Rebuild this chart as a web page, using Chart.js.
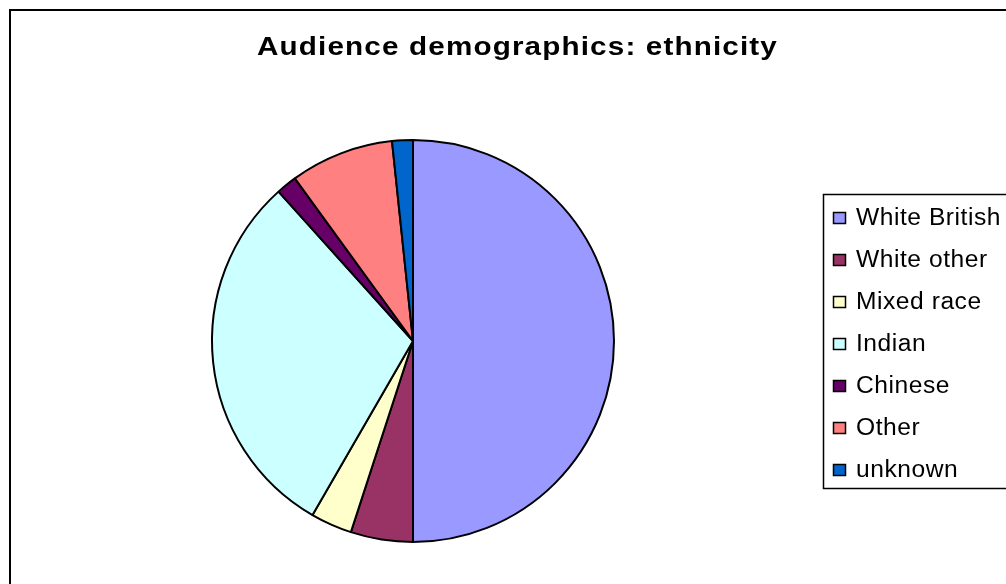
<!DOCTYPE html>
<html>
<head>
<meta charset="utf-8">
<title>Audience demographics: ethnicity</title>
<script src="https://cdn.jsdelivr.net/npm/chart.js@4/dist/chart.umd.min.js"></script>
<style>
  html, body { margin: 0; padding: 0; background: #fff; overflow: hidden; }
  #wrap { position: relative; width: 1006px; height: 584px; }
</style>
</head>
<body>
<div id="wrap"><canvas id="pieChart" width="1006" height="584"></canvas></div>
<script>
const chartTitle = 'Audience demographics: ethnicity';
const ethnicLabels = ['White British', 'White other', 'Mixed race', 'Indian', 'Chinese', 'Other', 'unknown'];
const audienceCounts = [30, 3, 2, 18, 1, 5, 1];
const sliceColors = ['#9999FF', '#993366', '#FFFFCC', '#CCFFFF', '#660066', '#FF8080', '#0066CC'];

const FONT = '"Liberation Sans", Arial, sans-serif';

// excel draws its text wider than the font does, so stretch it a bit
function wideText(ctx, text, x, y, sx, spacing) {
    ctx.save();
    ctx.letterSpacing = spacing + 'px';
    ctx.translate(x, y);
    ctx.scale(sx, 1);
    ctx.fillText(text, 0, 0);
    ctx.restore();
}

function fitScale(ctx, text, targetWidth, spacing) {
    ctx.letterSpacing = spacing + 'px';
    const w = ctx.measureText(text).width;
    ctx.letterSpacing = '0px';
    return targetWidth / w;
}

const framePlugin = {
    id: 'frame',
    beforeDraw(chart) {
        const ctx = chart.ctx;
        ctx.save();
        ctx.fillStyle = '#fff';
        ctx.fillRect(0, 0, chart.width, chart.height);
        // chart border, runs off the right and bottom edge
        ctx.strokeStyle = '#000';
        ctx.lineWidth = 2;
        ctx.strokeRect(10, 10, 1100, 700);
        ctx.restore();
    },
    afterDraw(chart) {
        const ctx = chart.ctx;
        ctx.save();
        ctx.fillStyle = '#000';
        ctx.textBaseline = 'alphabetic';
        ctx.textAlign = 'left';

        // title
        ctx.font = 'bold 26px ' + FONT;
        const tScale = fitScale(ctx, chartTitle, 521, 1);
        wideText(ctx, chartTitle, 257, 55, tScale, 1);

        // legend box
        ctx.strokeStyle = '#000';
        ctx.lineWidth = 1.5;
        ctx.fillStyle = '#fff';
        ctx.fillRect(823.5, 194.5, 300, 294);
        ctx.strokeRect(823.5, 194.5, 300, 294);

        const ds = chart.data.datasets[0];
        ctx.font = '23px ' + FONT;
        const lScale = fitScale(ctx, chart.data.labels[0], 145, 0.5);
        chart.data.labels.forEach((label, i) => {
            const y = 218 + i * 42;
            ctx.fillStyle = ds.backgroundColor[i];
            ctx.fillRect(833, y - 6, 13, 12);
            ctx.lineWidth = 1.5;
            ctx.strokeStyle = '#000';
            ctx.strokeRect(833.5, y - 5.5, 12, 11);
            ctx.fillStyle = '#000';
            wideText(ctx, label, 856, y + 7, lScale, 0.5);
        });
        ctx.restore();
    }
};

const pieConfig = {
    type: 'pie',
    data: {
        labels: ethnicLabels,
        datasets: [{
            data: audienceCounts,
            backgroundColor: sliceColors,
            borderColor: '#000',
            borderWidth: 2,
        }]
    },
    options: {
        responsive: false,
        animation: false,
        events: [],
        radius: 201,
        layout: {
            padding: { left: 0, right: 180, top: 98, bottom: 0 }
        },
        plugins: {
            legend: { display: false },
            title: { display: false },
            tooltip: { enabled: false }
        }
    },
    plugins: [framePlugin]
};

const pieChartInstance = new Chart(document.getElementById('pieChart').getContext('2d'), pieConfig);
</script>
</body>
</html>
